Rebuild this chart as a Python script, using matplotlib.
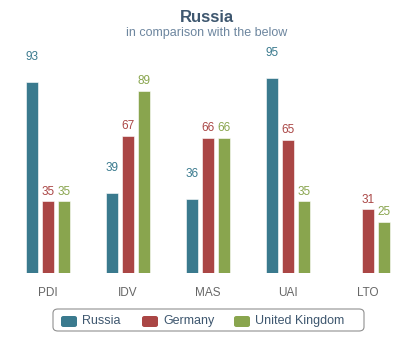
import numpy as np
import matplotlib.pyplot as plt
from matplotlib.patches import FancyBboxPatch

plt.rcParams['font.family'] = ['Liberation Sans', 'DejaVu Sans']

# datos
categorias = ['PDI', 'IDV', 'MAS', 'UAI', 'LTO']
russia = [93, 39, 36, 95, None]
germany = [35, 67, 66, 65, 31]
uk = [35, 89, 66, 35, 25]

series = [('Russia', russia, '#3a7a8e', 14),
          ('Germany', germany, '#aa4645', 2.5),
          ('United Kingdom', uk, '#89a54e', 2.5)]

fig = plt.figure(figsize=(4.14, 3.42), dpi=100)
ax = fig.add_axes([8 / 414, 69 / 342, 400 / 414, 205 / 342])

x = np.arange(len(categorias))
offsets = [-0.2, 0.0, 0.2]
ancho = 0.15

for (nombre, valores, color, dy), off in zip(series, offsets):
    for i, v in enumerate(valores):
        if v is None:
            continue
        ax.bar(x[i] + off, v, ancho, color=color, edgecolor='white', linewidth=0.4)
        ax.annotate(str(v), (x[i] + off, v), xytext=(0, dy), textcoords='offset points',
                    ha='center', va='bottom', fontsize=8.5, color=color)

ax.set_xlim(-0.5, len(categorias) - 0.5)
ax.set_ylim(0, 100)
ax.set_xticks(x)
ax.set_xticklabels(categorias, fontsize=8.5, color='#666666')
ax.tick_params(axis='x', length=0, pad=10)
ax.set_yticks([])
for s in ax.spines.values():
    s.set_visible(False)
ax.patch.set_alpha(0)

fig.text(0.5, 1 - 17 / 342, 'Russia', ha='center', va='center', fontsize=12,
         fontweight='bold', color='#3e576f')
fig.text(0.5, 1 - 33 / 342, 'in comparison with the below', ha='center', va='center',
         fontsize=9, color='#6d869f')

# leyenda
caja = FancyBboxPatch((53 / 414, 1 - 331 / 342), 311 / 414, 22 / 342,
                      boxstyle='round,pad=0,rounding_size=0.012', transform=fig.transFigure,
                      facecolor='white', edgecolor='#909090', linewidth=0.8)
fig.add_artist(caja)
items = [(61, 'Russia'), (142, 'Germany'), (234, 'United Kingdom')]
for (px, nombre), (_, _, color, _) in zip(items, series):
    fig.add_artist(FancyBboxPatch((px / 414, 1 - 327 / 342), 16 / 414, 11 / 342,
                                  boxstyle='round,pad=0,rounding_size=0.006',
                                  transform=fig.transFigure, facecolor=color, edgecolor='none'))
    fig.text((px + 21) / 414, 1 - 321 / 342, nombre, ha='left', va='center',
             fontsize=9, color='#3e576f')

fig.savefig('out.png', dpi=100)
